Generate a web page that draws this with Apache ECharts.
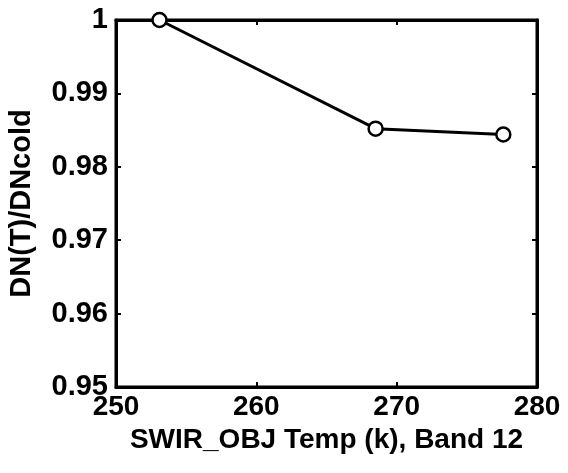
<!DOCTYPE html>
<html>
<head>
<meta charset="utf-8">
<script src="https://cdn.jsdelivr.net/npm/echarts@6/dist/echarts.min.js"></script>
<style>html,body{margin:0;padding:0;background:#fff;}#c{width:568px;height:473px;}</style>
</head>
<body>
<div id="c"></div>
<script>
const temps = [253.1, 268.5, 277.6];
const ratios = [1.0, 0.9852, 0.9844];
const xTicks = [250, 260, 270, 280];
const yTicks = [0.95, 0.96, 0.97, 0.98, 0.99, 1];

const font = '"Liberation Sans", Arial, Helvetica, sans-serif';
const chart = echarts.init(document.getElementById('c'));
const axisLine = { show: true, lineStyle: { color: '#000', width: 3 } };
chart.setOption({
  animation: false,
  backgroundColor: '#fff',
  grid: { left: 116, right: 31, top: 20, bottom: 86, show: true, borderColor: '#000', borderWidth: 3, backgroundColor: 'transparent', outerBoundsMode: 'none', containLabel: false },
  xAxis: [{
    type: 'value', min: 250, max: 280, interval: 10,
    axisLine: axisLine,
    axisTick: { show: true, inside: true, length: 5, lineStyle: { color: '#000', width: 2 } },
    splitLine: { show: false },
    axisLabel: { color: '#000', fontFamily: font, fontSize: 28, fontWeight: 'bold', margin: 6,
      formatter: v => xTicks.includes(Math.round(v)) ? String(Math.round(v)) : '' },
    name: 'SWIR_OBJ Temp (k), Band 12', nameLocation: 'middle', nameGap: 36,
    nameTextStyle: { color: '#000', fontFamily: font, fontSize: 28, fontWeight: 'bold' }
  }, {
    type: 'value', min: 250, max: 280, interval: 10, position: 'top',
    axisLine: axisLine,
    axisTick: { show: true, inside: true, length: 5, lineStyle: { color: '#000', width: 2 } },
    splitLine: { show: false }, axisLabel: { show: false }
  }],
  yAxis: [{
    type: 'value', min: 0.95, max: 1, interval: 0.01,
    axisLine: axisLine,
    axisTick: { show: true, inside: true, length: 5, lineStyle: { color: '#000', width: 2 } },
    splitLine: { show: false },
    axisLabel: { color: '#000', fontFamily: font, fontSize: 29, fontWeight: 'bold', margin: 8,
      formatter: v => { const r = Math.round(v * 100) / 100; const t = yTicks.find(y => Math.abs(y - r) < 1e-6); return t === undefined ? '' : (t === 1 ? '1' : t.toFixed(2)); } },
    name: 'DN(T)/DNcold', nameLocation: 'middle', nameGap: 80,
    nameTextStyle: { color: '#000', fontFamily: font, fontSize: 29, fontWeight: 'bold' }
  }, {
    type: 'value', min: 0.95, max: 1, interval: 0.01, position: 'right',
    axisLine: axisLine,
    axisTick: { show: true, inside: true, length: 5, lineStyle: { color: '#000', width: 2 } },
    splitLine: { show: false }, axisLabel: { show: false }
  }],
  series: [{
    type: 'line',
    data: temps.map((t, i) => [t, ratios[i]]),
    symbol: 'circle', symbolSize: 14,
    itemStyle: { color: '#fff', borderColor: '#000', borderWidth: 2.5 },
    lineStyle: { color: '#000', width: 3 },
    clip: false
  }]
});
</script>
</body>
</html>
